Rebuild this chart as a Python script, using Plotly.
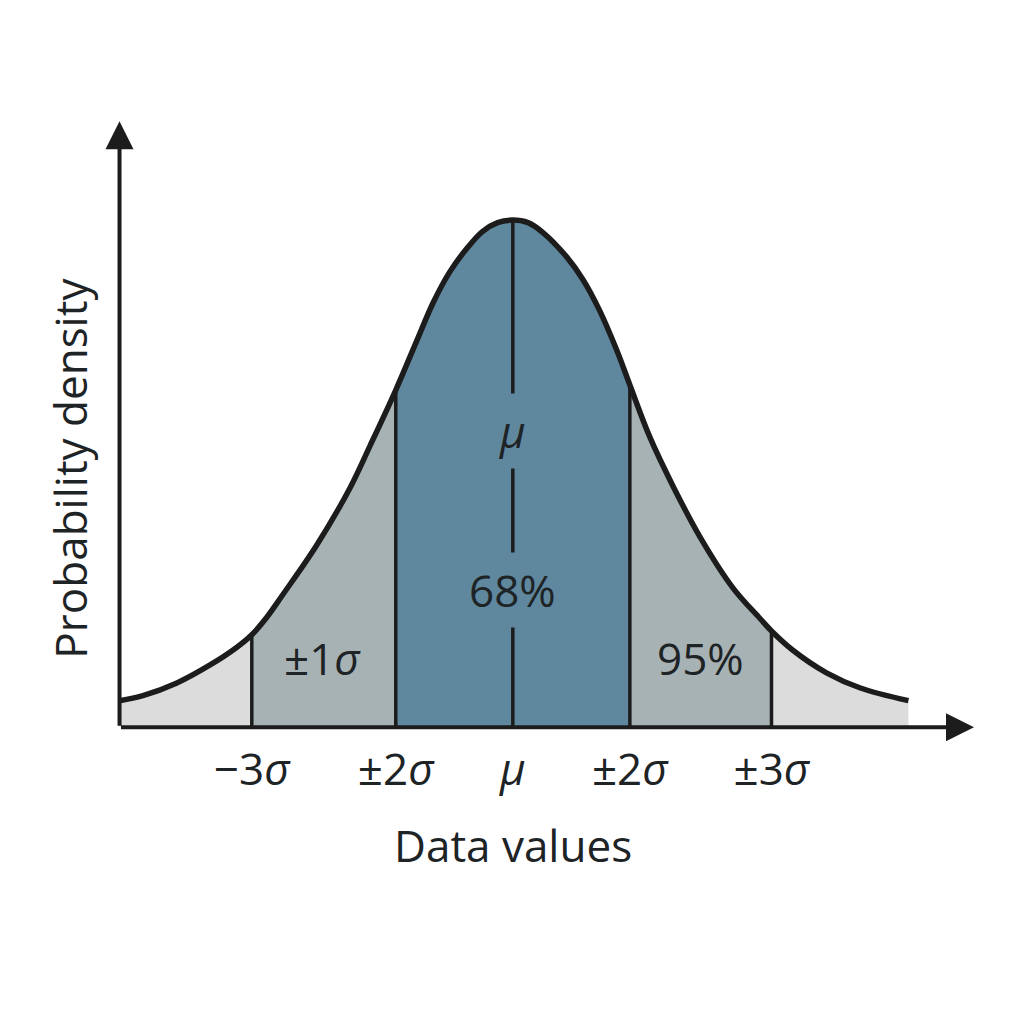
import plotly.graph_objects as go

# ---- data (x in sigma units, mu = 0) ----
x_vals = [-3.36, -3.16, -2.87, -2.59, -2.36, -2.23, -2.10, -1.97, -1.68, -1.39, -1.22,
          -1.00, -0.82, -0.68, -0.54, -0.39, -0.26, -0.13, 0.00, 0.13, 0.26, 0.46,
          0.60, 0.74, 0.89, 1.00, 1.17, 1.37, 1.60, 1.88, 2.11, 2.21, 2.39, 2.68,
          2.97, 3.38]
density = [0.021, 0.025, 0.035, 0.049, 0.063, 0.073, 0.087, 0.104, 0.143, 0.189, 0.222,
           0.266, 0.305, 0.335, 0.359, 0.378, 0.391, 0.398, 0.400, 0.398, 0.390, 0.371,
           0.353, 0.329, 0.297, 0.270, 0.229, 0.190, 0.150, 0.110, 0.086, 0.076, 0.061,
           0.043, 0.031, 0.021]

boundaries = [-2.23, -1.00, 0.00, 1.00, 2.21]
tick_labels = ["\u22123<i>\u03c3</i>", "\u00b12<i>\u03c3</i>", "<i>\u03bc</i>",
               "\u00b12<i>\u03c3</i>", "\u00b13<i>\u03c3</i>"]

region_edges = [-3.36, -2.23, -1.00, 1.00, 2.21, 3.38]
region_colors = ["#dcdcdc", "#a6b2b3", "#5f879e", "#a6b2b3", "#dcdcdc"]

region_labels = ["\u00b11<i>\u03c3</i>", "<i>\u03bc</i>", "68%", "95%"]
region_label_x = [-1.63, 0.0, 0.0, 1.60]
region_label_y = [0.055, 0.234, 0.108, 0.055]

x_title = "Data values"
y_title = "Probability density"

FONT = "Open Sans"
INK = "#1e2326"
LINE = "#1c1c1c"
FS = 44
BLUE = region_colors[2]

fig = go.Figure()

# filled regions
for i in range(len(region_edges) - 1):
    lo, hi = region_edges[i], region_edges[i + 1]
    idx = [k for k, xv in enumerate(x_vals) if lo - 1e-9 <= xv <= hi + 1e-9]
    fig.add_trace(go.Scatter(
        x=[x_vals[k] for k in idx], y=[density[k] for k in idx],
        mode="lines", fill="tozeroy", fillcolor=region_colors[i],
        line=dict(width=0, shape="spline", smoothing=1.0, color=region_colors[i]),
        hoverinfo="skip", showlegend=False))

# vertical divider lines
for b in boundaries:
    yb = density[x_vals.index(b)]
    fig.add_trace(go.Scatter(
        x=[b, b], y=[0, yb], mode="lines",
        line=dict(color=LINE, width=3.5), hoverinfo="skip", showlegend=False))

# the curve outline
fig.add_trace(go.Scatter(
    x=x_vals, y=density, mode="lines",
    line=dict(color=LINE, width=5.5, shape="spline", smoothing=1.0),
    hoverinfo="skip", showlegend=False))

font = dict(family=FONT, size=FS, color=INK, weight=500)

annotations = []
for t, xx, yy in zip(region_labels, region_label_x, region_label_y):
    masked = t in ("<i>\u03bc</i>", "68%")
    annotations.append(dict(
        x=xx, y=yy, xref="x", yref="y", text=t, showarrow=False, font=font,
        bgcolor=BLUE if masked else "rgba(0,0,0,0)", borderpad=7 if masked else 0))

# axis titles
annotations.append(dict(x=0.0, y=0.0, xref="x", yref="y", yshift=-118,
                        text=x_title, showarrow=False, font=font))
annotations.append(dict(x=0, xref="paper", xshift=-39, xanchor="center",
                        y=0.204, yref="y", yanchor="middle",
                        text=y_title, textangle=-90, showarrow=False, font=font))

# axis arrows
annotations.append(dict(x=3.94, y=0, ax=-3.36, ay=0, xref="x", yref="y",
                        axref="x", ayref="y", showarrow=True, text="",
                        arrowhead=2, arrowsize=1.4, arrowwidth=4, arrowcolor=LINE))
annotations.append(dict(x=-3.36, y=0.478, ax=-3.36, ay=0, xref="x", yref="y",
                        axref="x", ayref="y", showarrow=True, text="",
                        arrowhead=2, arrowsize=1.4, arrowwidth=4, arrowcolor=LINE))

fig.update_layout(
    width=1024, height=1024,
    paper_bgcolor="white", plot_bgcolor="white",
    margin=dict(l=101.35, r=51, t=97.9, b=292.35, autoexpand=False),
    font=dict(family=FONT, color=INK),
    annotations=annotations,
    xaxis=dict(range=[-3.45, 4.0], showgrid=False, zeroline=False, showline=False,
               tickmode="array", tickvals=boundaries, ticktext=tick_labels,
               ticks="", tickfont=font),
    yaxis=dict(range=[-0.01, 0.49], showgrid=False, zeroline=False, showline=False,
               showticklabels=False, ticks=""),
)

fig.write_html("out.html")
